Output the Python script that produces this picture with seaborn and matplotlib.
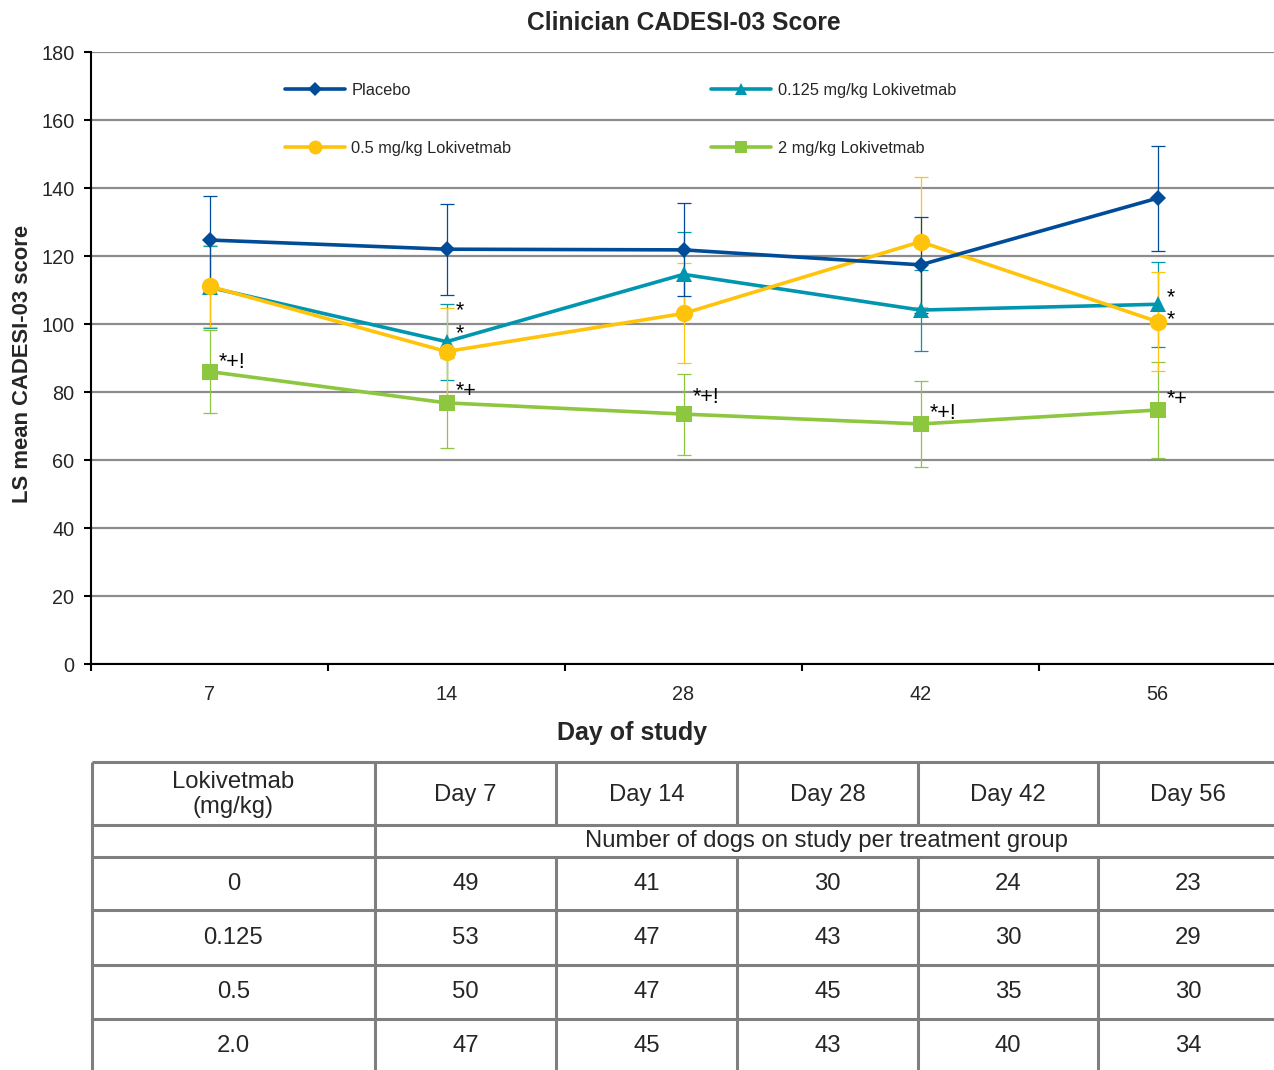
import matplotlib
matplotlib.use("Agg")
import matplotlib.pyplot as plt
from matplotlib.lines import Line2D
import seaborn as sns

# x categories (day of study)
days = ["7", "14", "28", "42", "56"]

# LS mean score and error half-width per group
placebo_mean = [124.7, 122.0, 121.8, 117.4, 137.0]
placebo_err = [13.0, 13.4, 13.7, 14.2, 15.5]
low_mean = [110.8, 94.8, 114.6, 104.1, 105.8]
low_err = [12.0, 11.2, 12.6, 11.9, 12.5]
mid_mean = [111.1, 91.9, 103.1, 124.2, 100.7]
mid_err = [12.0, 12.8, 14.7, 19.1, 14.5]
high_mean = [86.0, 76.8, 73.5, 70.6, 74.7]
high_err = [12.2, 13.3, 11.9, 12.6, 14.1]

# significance marks: (day index, score, label)
sig_marks = [
    (0, 88.6, "*+!"),
    (1, 104.0, "*"), (1, 97.2, "*"), (1, 80.1, "*+"),
    (2, 78.3, "*+!"),
    (3, 73.6, "*+!"),
    (4, 107.6, "*"), (4, 101.2, "*"), (4, 77.7, "*+"),
]

# table of dogs on study
table_header = ["Lokivetmab\n(mg/kg)", "Day 7", "Day 14", "Day 28", "Day 42", "Day 56"]
table_note = "Number of dogs on study per treatment group"
table_doses = ["0", "0.125", "0.5", "2.0"]
dogs_0 = [49, 41, 30, 24, 23]
dogs_0125 = [53, 47, 43, 30, 29]
dogs_05 = [50, 47, 45, 35, 30]
dogs_2 = [47, 45, 43, 40, 34]

series = [
    # label, means, errs, color, marker, markersize
    ("2 mg/kg Lokivetmab", high_mean, high_err, "#8DC63F", "s", 11.5),
    ("0.125 mg/kg Lokivetmab", low_mean, low_err, "#0096B0", "^", 11.5),
    ("0.5 mg/kg Lokivetmab", mid_mean, mid_err, "#FFC30B", "o", 12.5),
    ("Placebo", placebo_mean, placebo_err, "#004C99", "D", 8.5),
]

sns.set_theme(style="white")
plt.rcParams["font.family"] = ["Liberation Sans", "DejaVu Sans"]

W, H = 1274, 1070
fig = plt.figure(figsize=(W / 100, H / 100), dpi=100)
ax = fig.add_axes([91 / W, 1 - 664 / H, 1185 / W, 612 / H])

pos = list(range(len(days)))
handles = {}
for label, means, errs, color, marker, ms in series:
    ax.errorbar(pos, means, yerr=errs, fmt="none", ecolor=color, elinewidth=0.9,
                capsize=5, capthick=0.9, zorder=2)
for label, means, errs, color, marker, ms in series:
    sns.lineplot(x=pos, y=means, ax=ax, color=color, marker=marker, markersize=ms,
                 markeredgewidth=0, linewidth=2.6, sort=False, zorder=3)
    handles[label] = Line2D([], [], color=color, marker=marker, markersize=ms * 0.8,
                            markeredgewidth=0, linewidth=2.6)

for i, y, txt in sig_marks:
    ax.text(i + 0.04, y, txt, fontsize=15.5, ha="left", va="center", color="black", zorder=4)

ax.set_xlim(-0.5, 4.5)
ax.set_ylim(0, 180)
ax.set_yticks(range(0, 181, 20))
ax.yaxis.grid(True, color="#8C8C8C", linewidth=1.6)
ax.set_axisbelow(True)
ax.set_xticks([i - 0.5 for i in range(len(days) + 1)])
ax.set_xticklabels([])
ax.set_xticks(pos, minor=True)
ax.set_xticklabels(days, minor=True)
ax.tick_params(axis="x", which="major", direction="out", length=5, width=1.5, color="black", bottom=True)
ax.tick_params(axis="x", which="minor", length=0, pad=15, labelsize=14.3)
ax.tick_params(axis="y", direction="out", length=5, width=1.5, color="black", left=True, pad=7, labelsize=14.3)
for side in ["top", "right"]:
    ax.spines[side].set_visible(False)
for side in ["left", "bottom"]:
    ax.spines[side].set_color("black")
    ax.spines[side].set_linewidth(1.5)
ax.set_xlabel("")
ax.set_ylabel("LS mean CADESI-03 score", fontsize=15.8, fontweight="bold")
ax.yaxis.set_label_coords(-0.0486, 0.49)

order = ["Placebo", "0.5 mg/kg Lokivetmab", "0.125 mg/kg Lokivetmab", "2 mg/kg Lokivetmab"]
ax.legend([handles[k] for k in order], order, ncol=2, frameon=False, fontsize=11.8,
          loc="upper left", bbox_to_anchor=(285 / W, 1 - 83 / H), bbox_transform=fig.transFigure,
          borderpad=0, borderaxespad=0, handlelength=3.65, handletextpad=0.4,
          columnspacing=12.2, labelspacing=2.6)

fig.text(683.5 / W, 1 - 23 / H, "Clinician CADESI-03 Score", ha="center", va="center",
         fontsize=17.7, fontweight="bold")
fig.text(632 / W, 1 - 733 / H, "Day of study", ha="center", va="center",
         fontsize=18, fontweight="bold")

# table drawn in pixel space
tax = fig.add_axes([0, 0, 1, 1])
tax.set_xlim(0, W)
tax.set_ylim(H, 0)
tax.axis("off")
tax.patch.set_alpha(0)

col_edges = [92, 375, 556, 737, 918, 1098, 1278]
row_edges = [762, 825, 857, 910, 965, 1019, 1074]
line_kw = dict(color="#7F7F7F", linewidth=2.2)
for y in row_edges[:-1]:
    tax.hlines(y, col_edges[0], W, **line_kw)
tax.vlines(col_edges[0], row_edges[0], H, **line_kw)
tax.vlines(col_edges[1], row_edges[0], H, **line_kw)
for x in col_edges[2:-1]:
    tax.vlines(x, row_edges[0], row_edges[1], **line_kw)
    tax.vlines(x, row_edges[2], H, **line_kw)

centers = [(a + b) / 2 for a, b in zip(col_edges[:-1], col_edges[1:])]
fs = 17.2
for cx, txt in zip(centers, table_header):
    tax.text(cx, (row_edges[0] + row_edges[1]) / 2 + 1, txt, ha="center", va="center",
             fontsize=fs, linespacing=1.15)
tax.text((col_edges[1] + col_edges[-1]) / 2, (row_edges[1] + row_edges[2]) / 2, table_note,
         ha="center", va="center", fontsize=fs)
for r, (dose, counts) in enumerate(zip(table_doses, [dogs_0, dogs_0125, dogs_05, dogs_2])):
    cy = (row_edges[r + 2] + row_edges[r + 3]) / 2
    tax.text(centers[0], cy, dose, ha="center", va="center", fontsize=fs)
    for cx, n in zip(centers[1:], counts):
        tax.text(cx, cy, str(n), ha="center", va="center", fontsize=fs)

fig.savefig("out.png", dpi=100)
